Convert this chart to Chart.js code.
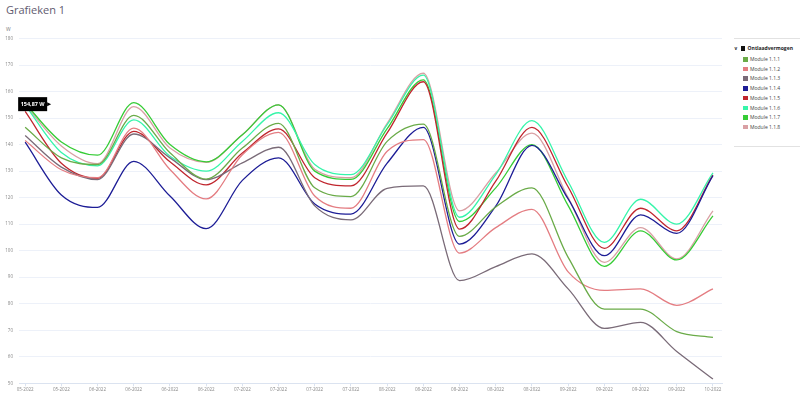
<!DOCTYPE html>
<html>
<head>
<meta charset="utf-8">
<script src="https://cdn.jsdelivr.net/npm/chart.js@4"></script>
<style>
  body { margin: 0; background: #fff; font-family: 'Open Sans', sans-serif; }
  #wrap { position: relative; width: 800px; height: 397px; overflow: hidden; }
  #title { position: absolute; left: 6px; top: 2px; font-size: 11px; color: #5f5b70; }
  #unit { position: absolute; left: 6px; top: 26px; font-size: 5px; color: #777; }
  #box { position: absolute; left: 0; top: 0; width: 730px; height: 397px; }
  #legend { position: absolute; left: 734px; top: 38px; width: 66px; height: 107px;
            border-top: 1px solid #e2e2e2; border-bottom: 1px solid #e2e2e2; font-size: 5px; color: #444; }
  #legend .head { position: absolute; left: 0; top: 6px; font-weight: bold; color: #222; white-space: nowrap; }
  #legend .item { position: absolute; left: 9px; white-space: nowrap; }
  #legend .sw { display: inline-block; width: 4.5px; height: 4.5px; margin-right: 2.5px; vertical-align: -0.5px; }
</style>
</head>
<body>
<div id="wrap">
  <div id="title">Grafieken 1</div>
  <div id="unit">W</div>
  <div id="box"><canvas id="lineChart" width="730" height="397"></canvas></div>
  <div id="legend"></div>
</div>
<script>
const labels = ['05-2022','05-2022','06-2022','06-2022','06-2022','06-2022','07-2022','07-2022','07-2022','07-2022',
  '08-2022','08-2022','08-2022','08-2022','08-2022','09-2022','09-2022','09-2022','09-2022','10-2022'];

const names = ['Module 1.1.1','Module 1.1.2','Module 1.1.3','Module 1.1.4','Module 1.1.5','Module 1.1.6','Module 1.1.7','Module 1.1.8'];
const colors = ['#6aab48','#e47d82','#7a6b78','#1d1d96','#c0262e','#36f5aa','#36cc36','#d9a0a4'];

const m111 = [146.5, 135, 132.5, 151, 136.9, 127, 138.7, 148, 123.7, 120.4, 141.2, 147.7, 105.4, 116.5, 123.7, 97.5, 78, 78, 69.5, 67.3];
const m112 = [141.5, 130.5, 127.5, 146.2, 130.6, 119.5, 136.2, 144.6, 120.6, 116, 137.5, 141.9, 99.1, 108.7, 115.6, 92, 85, 85.6, 79.4, 85.6];
const m113 = [143.4, 131.5, 126.8, 144, 135, 126.8, 133.1, 139, 116.9, 111.6, 123.5, 124.4, 88.7, 94, 98.8, 85.6, 70.7, 73, 62, 51.6];
const m114 = [140.9, 121, 116.3, 133.7, 120.6, 108.3, 126.5, 135, 117.6, 113.8, 133, 146.5, 102.5, 116.8, 139.7, 119.5, 98.1, 113.5, 106.5, 128.3];
const m115 = [152.5, 133, 127.3, 145, 133.5, 124.8, 136.8, 145.9, 127.5, 124.4, 144.4, 163.7, 108.1, 126.2, 146.5, 124, 100.9, 116, 107.5, 128.5];
const m116 = [154.87, 137, 132, 149.3, 135.6, 130, 141.2, 152, 132.5, 128.7, 147.5, 166.2, 112.6, 128.7, 149, 126, 103.1, 119.4, 110, 129.3];
const m117 = [155.5, 141, 136, 155.8, 140, 133.5, 143.7, 155, 130, 126.9, 146, 164.4, 111, 123.7, 140, 117, 94.1, 107.5, 96.5, 113.1];
const m118 = [155, 139.5, 132.8, 154.3, 138.7, 133.3, 143.7, 155, 130.7, 127.5, 148, 166.9, 115, 129.3, 144.3, 120, 95.6, 108.7, 96.9, 115];
const series = [m111, m112, m113, m114, m115, m116, m117, m118];

const yTicks = [50, 60, 70, 80, 90, 100, 110, 120, 130, 140, 150, 160, 170, 180];

// legend on the right
const legend = document.getElementById('legend');
let html = '<div class="head">&#8744;&nbsp;&nbsp;<span class="sw" style="background:#111"></span>Ontlaadvermogen</div>';
names.forEach(function (n, i) {
  html += '<div class="item" style="top:' + (17 + i * 9.7) + 'px"><span class="sw" style="background:' + colors[i] + '"></span>' + n + '</div>';
});
legend.innerHTML = html;

// tooltip shown on the first point of Module 1.1.6
const fixedTip = {
  id: 'fixedTip',
  afterDatasetsDraw(chart) {
    const pt = chart.getDatasetMeta(5).data[0];
    const ctx = chart.ctx;
    const x = pt.x, y = pt.y;
    ctx.save();
    ctx.fillStyle = '#000';
    ctx.fillRect(x - 7, y - 8, 29, 14);
    ctx.beginPath();
    ctx.moveTo(x + 22, y - 3);
    ctx.lineTo(x + 26, y - 1);
    ctx.lineTo(x + 22, y + 1);
    ctx.fill();
    ctx.fillStyle = '#fff';
    ctx.font = 'bold 5.5px "Open Sans"';
    ctx.textAlign = 'center';
    ctx.textBaseline = 'middle';
    ctx.fillText(m116[0].toFixed(2).replace('.', ',') + ' W', x + 7.5, y - 1);
    ctx.restore();
  }
};

const ctx = document.getElementById('lineChart').getContext('2d');
new Chart(ctx, {
  type: 'line',
  data: {
    datasets: series.map(function (s, i) {
      return {
        label: names[i],
        data: s.map(function (v, k) { return { x: k, y: v }; }),
        borderColor: colors[i],
        backgroundColor: colors[i],
        borderWidth: 1.3,
        pointRadius: 0,
        cubicInterpolationMode: 'monotone',
        fill: false
      };
    })
  },
  options: {
    responsive: false,
    animation: false,
    layout: { padding: { top: 38.5, right: 8, bottom: 0, left: 0 } },
    plugins: { legend: { display: false }, tooltip: { enabled: false } },
    scales: {
      x: {
        type: 'linear',
        min: -0.17,
        max: 19.25,
        afterBuildTicks: function (scale) {
          scale.ticks = labels.map(function (l, i) { return { value: i }; });
        },
        afterFit: function (scale) { scale.height = 13.7; },
        ticks: {
          autoSkip: false,
          maxRotation: 0,
          padding: 1,
          color: '#888',
          font: { size: 4.5, family: 'Open Sans' },
          callback: function (v) { return labels[v]; }
        },
        grid: { drawOnChartArea: false, drawTicks: true, tickLength: 3, color: '#dbe3f0' },
        border: { color: '#dbe3f0' }
      },
      y: {
        min: 50,
        max: 180,
        afterBuildTicks: function (scale) {
          scale.ticks = yTicks.map(function (v) { return { value: v }; });
        },
        afterFit: function (scale) { scale.width = 19; },
        ticks: { padding: 6, color: '#888', font: { size: 4.5, family: 'Open Sans' } },
        grid: { drawTicks: false, color: '#edf1f9' },
        border: { display: false }
      }
    }
  },
  plugins: [fixedTip]
});
</script>
</body>
</html>
